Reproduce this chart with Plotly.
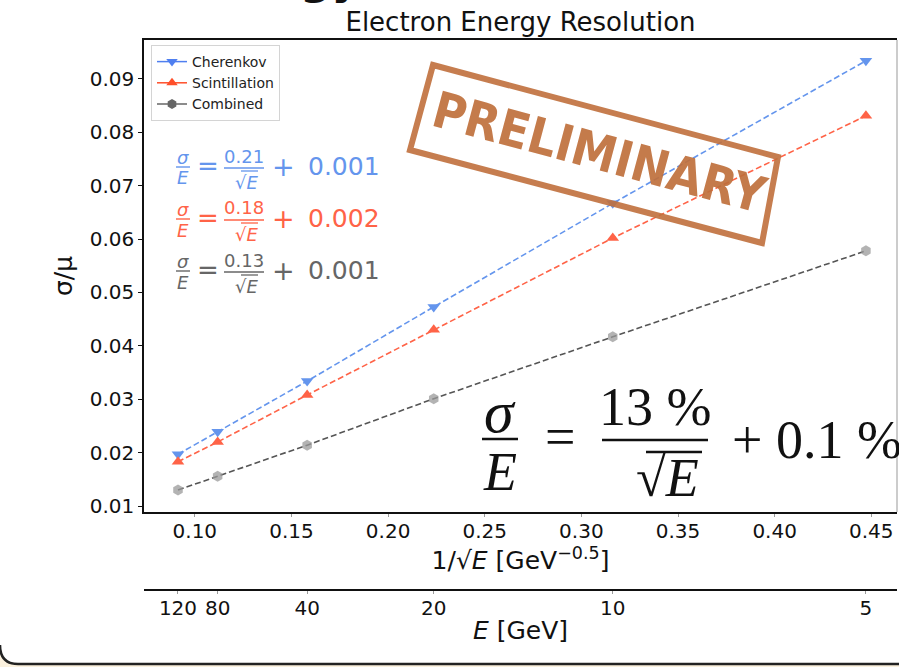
import numpy as np
import plotly.graph_objects as go

# ---------------- data ----------------
energies = [120, 80, 40, 20, 10, 5]                 # GeV
inv_sqrt_e = [1/np.sqrt(e) for e in energies]       # 1/sqrt(E)
cherenkov = [0.0197, 0.0239, 0.0334, 0.0473, 0.0667, 0.0934]
scintillation = [0.0183, 0.0220, 0.0308, 0.0430, 0.0602, 0.0831]
combined = [0.0130, 0.0156, 0.0214, 0.0301, 0.0417, 0.0578]

e_tick_vals = [120, 80, 40, 20, 10, 5]
e_tick_text = ["120", "80", "40", "20", "10", "5"]
x_ticks = [0.10, 0.15, 0.20, 0.25, 0.30, 0.35, 0.40, 0.45]
y_ticks = [0.01, 0.02, 0.03, 0.04, 0.05, 0.06, 0.07, 0.08, 0.09]

fits = [("0.21", "0.001"), ("0.18", "0.002"), ("0.13", "0.001")]

BLUE = "#6495ED"
RED = "#FF6347"
GREY = "#666666"
STAMP = "#C0703C"
SANS = "DejaVu Sans"
SERIF = "Liberation Serif"

W, H = 899, 667
ML, MR, MT, MB = 144, 2, 40, 77
PW = W - ML - MR
PH = H - MT - MB


def px(x):
    return (x - ML) / PW


def py(y):
    return (H - MB - y) / PH


fig = go.Figure()

series = [
    ("Cherenkov", cherenkov, BLUE, "#4f7ff0", "triangle-down", 11, 1.0),
    ("Scintillation", scintillation, RED, "#ff4f2a", "triangle-up", 11, 1.0),
    ("Combined", combined, "#555555", "#666666", "hexagon", 11, 0.75),
]
for name, vals, col, lcol, sym, size, op in series:
    mcol = "#9a9a9a" if name == "Combined" else col
    fig.add_trace(go.Scatter(
        x=inv_sqrt_e, y=vals, mode="lines+markers", name=name,
        line=dict(color=col, width=1.6, dash="6px,3px"),
        marker=dict(symbol=sym, size=size, color=mcol, opacity=op,
                    line=dict(width=0)),
        showlegend=False, legendgroup=name,
    ))
for name, vals, col, lcol, sym, size, op in series:
    fig.add_trace(go.Scatter(
        x=[None], y=[None], mode="lines+markers", name=name,
        line=dict(color=lcol, width=1.5),
        marker=dict(symbol=sym, size=10, color=lcol, line=dict(width=0)),
        legendgroup=name, showlegend=True,
    ))

# invisible trace to hold the secondary (energy) axis
fig.add_trace(go.Scatter(
    x=inv_sqrt_e, y=combined, xaxis="x2", yaxis="y", mode="markers",
    marker=dict(opacity=0), showlegend=False, hoverinfo="skip",
))

xr = [0.0737, 0.4633]
yr = [0.00888, 0.0973]
ydom0 = (H - MB - 512) / PH

fig.update_layout(
    width=W, height=H,
    margin=dict(l=ML, r=MR, t=MT, b=MB, pad=0),
    paper_bgcolor="white", plot_bgcolor="white",
    font=dict(family=SANS, size=20, color="#111111"),
    title=dict(text="Electron Energy Resolution", x=0.5, xref="paper",
               xanchor="center", y=1 - 22 / H, yanchor="middle",
               font=dict(size=26, family=SANS, color="#111111")),
    xaxis=dict(range=xr, tickvals=x_ticks,
               ticktext=[f"{v:.2f}" for v in x_ticks],
               showgrid=False, zeroline=False, showline=True,
               linecolor="#111111", linewidth=1.5, mirror=True,
               ticks="outside", ticklen=3, tickcolor="#999999",
               tickfont=dict(size=20), ticklabelstandoff=-3,
               title=dict(text="1/√<i>E</i> [GeV<sup>−0.5</sup>]",
                          font=dict(size=25), standoff=2),
               anchor="y"),
    xaxis2=dict(range=xr, overlaying="x", anchor="free", position=0,
                side="bottom", tickvals=[1/np.sqrt(e) for e in e_tick_vals],
                ticktext=e_tick_text, showgrid=False, zeroline=False,
                showline=True, linecolor="#111111", linewidth=1.5,
                ticks="outside", ticklen=3, tickcolor="#999999",
                tickfont=dict(size=20), ticklabelstandoff=-3,
                title=dict(text="<i>E</i> [GeV]", font=dict(size=25),
                           standoff=2)),
    yaxis=dict(range=yr, domain=[ydom0, 1], tickvals=y_ticks,
               ticktext=[f"{v:.2f}" for v in y_ticks],
               showgrid=False, zeroline=False, showline=True,
               linecolor="#111111", linewidth=1.5,
               ticks="outside", ticklen=4, tickcolor="#111111",
               tickfont=dict(size=20),
               title=dict(text="σ/μ", font=dict(size=25), standoff=10)),
    legend=dict(x=px(151), y=py(45), xanchor="left", yanchor="top",
                xref="paper", yref="paper",
                bgcolor="rgba(255,255,255,0.85)", bordercolor="#d4d4d4",
                borderwidth=1, font=dict(size=14, color="#222222"),
                tracegroupgap=0, itemwidth=30),
)

ann = []
shapes = []


def txt(x, y, s, size, color, family=SANS, xa="center", ya="middle", angle=0):
    ann.append(dict(x=px(x), y=py(y), xref="paper", yref="paper", text=s,
                    showarrow=False, xanchor=xa, yanchor=ya, textangle=angle,
                    font=dict(size=size, color=color, family=family)))


def hline(x0, x1, y, color, width):
    shapes.append(dict(type="line", xref="paper", yref="paper",
                       x0=px(x0), x1=px(x1), y0=py(y), y1=py(y),
                       line=dict(color=color, width=width)))


# right spine (light)
shapes.append(dict(type="line", xref="paper", yref="paper", x0=1, x1=1,
                   y0=ydom0, y1=1, line=dict(color="#bbbbbb", width=1.5)))

# small colored fit formulas
for (coef, const), col, yc in zip(fits, [BLUE, RED, GREY], [167, 219, 271]):
    txt(183, yc - 10, "<i>σ</i>", 18, col)
    hline(176, 190, yc, col, 1.4)
    txt(183, yc + 11, "<i>E</i>", 18, col)
    txt(208, yc - 1, "=", 26, col)
    txt(244, yc - 11, coef, 18, col)
    hline(224, 264, yc + 1, col, 1.4)
    txt(246, yc + 15, "√<i>E</i>", 18, col)
    hline(241, 258, yc + 4, col, 1.3)
    txt(283, yc - 1, "+", 27, col)
    txt(344, yc - 1, const, 25, col)

# big formula
txt(500, 412, "<i>σ</i>", 60, "#111111", SERIF)
hline(482, 518, 439, "#111111", 2.5)
txt(500, 472, "<i>E</i>", 54, "#111111", SERIF)
txt(560, 437, "=", 54, "#111111", SERIF)
txt(655, 407, "13 %", 54, "#111111", SERIF)
hline(602, 708, 440, "#111111", 2.5)
txt(667, 478, "√<i>E</i>", 54, "#111111", SERIF)
hline(646, 702, 452, "#111111", 2.5)
txt(730, 440, "+ 0.1 %", 54, "#111111", SERIF, xa="left")

# PRELIMINARY stamp
corners = [(433, 65), (778, 157), (762, 243), (410, 150)]
path = "M " + " L ".join(f"{px(x)},{py(y)}" for x, y in corners) + " Z"
shapes.append(dict(type="path", xref="paper", yref="paper", path=path,
                   line=dict(color=STAMP, width=6), layer="above",
                   opacity=0.9))
ann.append(dict(x=px(600), y=py(153), xref="paper", yref="paper",
                text="<b>PRELIMINARY</b>", showarrow=False, textangle=15,
                xanchor="center", yanchor="middle", opacity=0.92,
                font=dict(size=50, color=STAMP,
                          family="DejaVu Sans Condensed, Liberation Sans Narrow, DejaVu Sans")))

# partial slide title above the crop
txt(330, 6, "<b>gy</b>", 44, "#111111", SANS, ya="bottom")

# slide frame bottom with rounded corner
fill_path = (f"M {px(0)},{py(645)} Q {px(0)},{py(664)} {px(18)},{py(664)} "
             f"L {px(900)},{py(664)} L {px(900)},{py(668)} L {px(0)},{py(668)} Z")
shapes.append(dict(type="path", xref="paper", yref="paper", path=fill_path,
                   fillcolor="#FBF1DE", line=dict(width=0), layer="below"))
frame_path = f"M {px(0)},{py(645)} Q {px(0)},{py(664)} {px(18)},{py(664)} L {px(900)},{py(664)}"
shapes.append(dict(type="path", xref="paper", yref="paper", path=frame_path,
                   line=dict(color="#222222", width=2.5)))

fig.update_layout(annotations=ann, shapes=shapes)
fig.write_html("out.html")
